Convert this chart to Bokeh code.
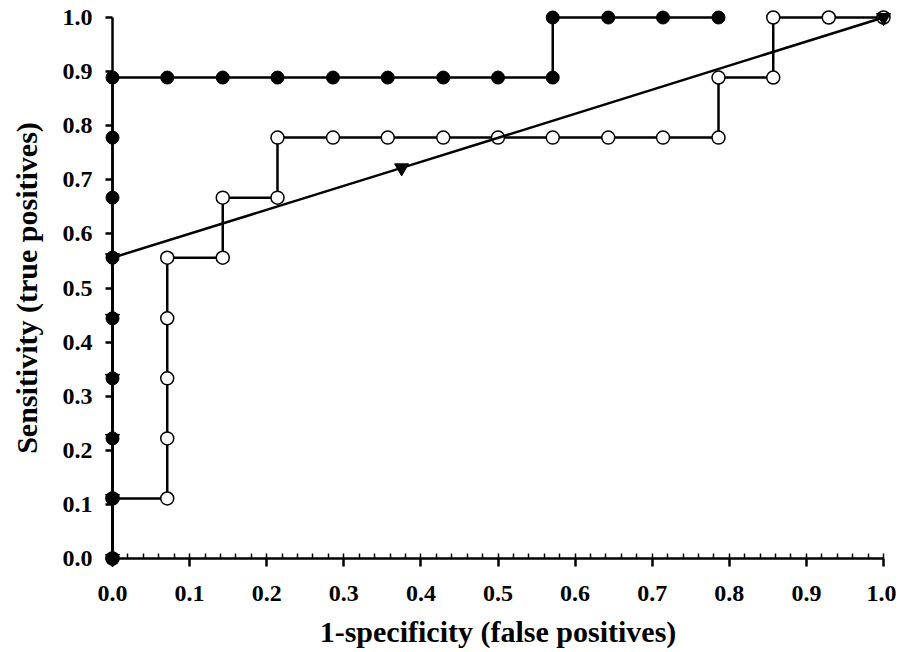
from bokeh.plotting import figure
from bokeh.models import Range1d, FixedTicker, PrintfTickFormatter
from bokeh.embed import file_html
from bokeh.resources import INLINE

# ---- data ----
filled_x = [0, 0, 0, 0, 0, 0, 0, 0, 0,
            0.071, 0.143, 0.214, 0.286, 0.357, 0.429, 0.5, 0.571,
            0.571, 0.643, 0.714, 0.786]
filled_y = [0, 0.111, 0.222, 0.333, 0.444, 0.556, 0.667, 0.778, 0.889,
            0.889, 0.889, 0.889, 0.889, 0.889, 0.889, 0.889, 0.889,
            1.0, 1.0, 1.0, 1.0]

open_x = [0, 0, 0.071, 0.071, 0.071, 0.071, 0.071, 0.143, 0.143, 0.214, 0.214,
          0.286, 0.357, 0.429, 0.5, 0.571, 0.643, 0.714, 0.786,
          0.786, 0.857, 0.857, 0.929, 1.0]
open_y = [0, 0.111, 0.111, 0.222, 0.333, 0.444, 0.556, 0.556, 0.667, 0.667, 0.778,
          0.778, 0.778, 0.778, 0.778, 0.778, 0.778, 0.778, 0.778,
          0.889, 0.889, 1.0, 1.0, 1.0]

tri_x = [0, 0, 0, 0, 0, 0, 0.375, 1.0]
tri_y = [0, 0.111, 0.222, 0.333, 0.444, 0.556, 0.722, 1.0]

x_ticks = [0.0, 0.1, 0.2, 0.3, 0.4, 0.5, 0.6, 0.7, 0.8, 0.9, 1.0]
x_minor = [round(i * 0.02, 2) for i in range(51)]
y_ticks = [0.0, 0.1, 0.2, 0.3, 0.4, 0.5, 0.6, 0.7, 0.8, 0.9, 1.0]

x_title = "1-specificity (false positives)"
y_title = "Sensitivity (true positives)"

FONT = "Liberation Serif"

p = figure(frame_width=771, frame_height=541,
           min_border_left=112, min_border_top=17, min_border_right=13, min_border_bottom=92,
           x_range=Range1d(0, 1), y_range=Range1d(0, 1),
           output_backend="svg", toolbar_location=None)
p.grid.visible = False
p.outline_line_color = None
p.background_fill_color = "white"
p.border_fill_color = "white"

xa = p.xaxis[0]
xa.ticker = FixedTicker(ticks=x_ticks, minor_ticks=x_minor)
xa.formatter = PrintfTickFormatter(format="%.1f")
xa.axis_line_width = 2.5
xa.axis_line_color = "black"
xa.major_tick_out = 8
xa.major_tick_in = 0
xa.major_tick_line_width = 2.5
xa.minor_tick_in = 5
xa.minor_tick_out = 0
xa.minor_tick_line_width = 1.5
xa.major_label_standoff = 19
xa.axis_label = x_title
xa.axis_label_standoff = 11

ya = p.yaxis[0]
ya.ticker = FixedTicker(ticks=y_ticks)
ya.formatter = PrintfTickFormatter(format="%.1f")
ya.axis_line_width = 2.5
ya.axis_line_color = "black"
ya.major_tick_out = 7
ya.major_tick_in = 0
ya.major_tick_line_width = 2.5
ya.minor_tick_line_color = None
ya.major_label_standoff = 13
ya.axis_label = y_title
ya.axis_label_standoff = 17

for ax in (xa, ya):
    ax.major_label_text_font = FONT
    ax.major_label_text_font_style = "bold"
    ax.major_label_text_font_size = "24px"
    ax.major_label_text_color = "black"
    ax.axis_label_text_font = FONT
    ax.axis_label_text_font_style = "bold"
    ax.axis_label_text_font_size = "30px"
    ax.axis_label_text_color = "black"

renderers = []
# open series (drawn first)
renderers.append(p.line(open_x, open_y, line_color="black", line_width=2.5))
renderers.append(p.scatter(open_x, open_y, marker="circle", size=13, fill_color="white",
                           line_color="black", line_width=1.5))
# filled series
renderers.append(p.line(filled_x, filled_y, line_color="black", line_width=2.5))
renderers.append(p.scatter(filled_x, filled_y, marker="circle", size=13, fill_color="black",
                           line_color="black"))
# triangle series
renderers.append(p.line(tri_x, tri_y, line_color="black", line_width=2.5))
renderers.append(p.scatter(tri_x, tri_y, marker="inverted_triangle", size=14, fill_color="black",
                           line_color="black"))
for r in renderers:
    r.level = "overlay"

open("out.html", "w").write(file_html(p, INLINE))
